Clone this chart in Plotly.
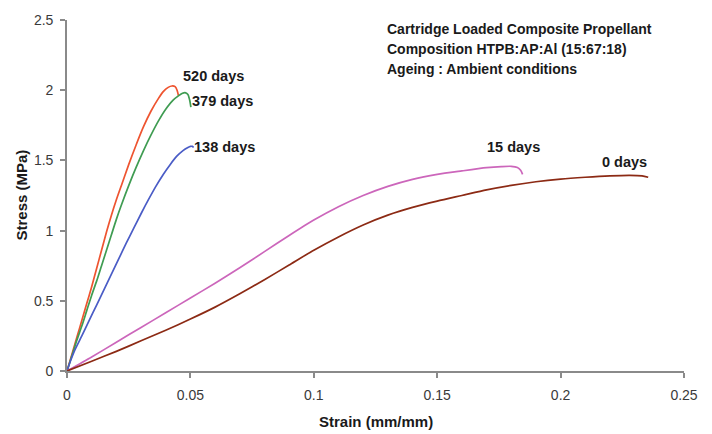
import plotly.graph_objects as go

# ---- data ----
strain_520 = [0, 0.002, 0.004, 0.006, 0.008, 0.010, 0.012, 0.014, 0.016, 0.018, 0.020, 0.022,
              0.025, 0.028, 0.031, 0.034, 0.037, 0.039, 0.041, 0.0425, 0.0438, 0.0446, 0.0452]
stress_520 = [0, 0.12, 0.24, 0.36, 0.48, 0.60, 0.73, 0.86, 0.99, 1.11, 1.22, 1.32,
              1.47, 1.61, 1.74, 1.85, 1.94, 1.99, 2.02, 2.03, 2.025, 2.00, 1.96]

strain_379 = [0, 0.002, 0.004, 0.006, 0.008, 0.010, 0.012, 0.014, 0.016, 0.018, 0.020, 0.022,
              0.025, 0.028, 0.031, 0.034, 0.037, 0.040, 0.043, 0.045, 0.0468, 0.0478, 0.0490,
              0.0497, 0.0502]
stress_379 = [0, 0.11, 0.22, 0.32, 0.43, 0.54, 0.64, 0.75, 0.86, 0.97, 1.08, 1.18,
              1.32, 1.45, 1.57, 1.68, 1.78, 1.865, 1.93, 1.958, 1.978, 1.983, 1.97,
              1.93, 1.88]

strain_138 = [0, 0.0016, 0.0032, 0.006, 0.009, 0.012, 0.015, 0.018, 0.021, 0.024, 0.027, 0.030,
              0.033, 0.036, 0.039, 0.042, 0.0445, 0.047, 0.049, 0.050, 0.0508, 0.0513]
stress_138 = [0, 0.08, 0.15, 0.25, 0.36, 0.47, 0.58, 0.69, 0.80, 0.91, 1.015, 1.12,
              1.22, 1.315, 1.40, 1.475, 1.53, 1.57, 1.592, 1.60, 1.60, 1.592]

strain_15 = [0, 0.01, 0.02, 0.03, 0.04, 0.05, 0.06, 0.07, 0.08, 0.09, 0.10, 0.11, 0.12, 0.13,
             0.14, 0.15, 0.16, 0.17, 0.176, 0.180, 0.1825, 0.1838, 0.1846]
stress_15 = [0, 0.10, 0.205, 0.31, 0.415, 0.52, 0.625, 0.735, 0.85, 0.965, 1.075, 1.17, 1.25,
             1.315, 1.365, 1.40, 1.425, 1.448, 1.456, 1.458, 1.45, 1.43, 1.40]

strain_0 = [0, 0.01, 0.02, 0.03, 0.04, 0.05, 0.06, 0.07, 0.08, 0.09, 0.10, 0.11, 0.12, 0.13,
            0.14, 0.15, 0.16, 0.17, 0.18, 0.19, 0.20, 0.21, 0.22, 0.228, 0.233, 0.2355]
stress_0 = [0, 0.07, 0.14, 0.215, 0.29, 0.37, 0.455, 0.55, 0.65, 0.755, 0.86, 0.955, 1.04, 1.11,
            1.165, 1.21, 1.25, 1.29, 1.322, 1.348, 1.367, 1.38, 1.39, 1.394, 1.39, 1.38]

series_names = ["520 days", "379 days", "138 days", "15 days", "0 days"]
x_ticks = [0, 0.05, 0.1, 0.15, 0.2, 0.25]
x_tick_labels = ["0", "0.05", "0.1", "0.15", "0.2", "0.25"]
y_ticks = [0, 0.5, 1, 1.5, 2, 2.5]
y_tick_labels = ["0", "0.5", "1", "1.5", "2", "2.5"]
info_lines = ["Cartridge Loaded Composite Propellant",
              "Composition HTPB:AP:Al (15:67:18)",
              "Ageing : Ambient conditions"]

colors = ["#EE5430", "#3F9C52", "#4A5CC6", "#CC66BB", "#8C2A14"]
xs = [strain_520, strain_379, strain_138, strain_15, strain_0]
ys = [stress_520, stress_379, stress_138, stress_15, stress_0]

# label anchor positions (data coords)
label_pos = [(0.0462, 2.10), (0.0500, 1.92), (0.0505, 1.594), (0.1692, 1.594), (0.2160, 1.489)]

FONT = "Arial, 'Liberation Sans', sans-serif"

fig = go.Figure()
for name, x, y, c in zip(series_names, xs, ys, colors):
    fig.add_trace(go.Scatter(x=x, y=y, mode="lines", name=name,
                             line=dict(color=c, width=1.7, shape="spline", smoothing=0.7),
                             showlegend=False))

annotations = []
for name, (lx, ly) in zip(series_names, label_pos):
    annotations.append(dict(x=lx, y=ly, xref="x", yref="y", text="<b>%s</b>" % name,
                            showarrow=False, xanchor="left", yanchor="middle",
                            font=dict(family=FONT, size=14.5, color="#1a1a1a")))
for i, line in enumerate(info_lines):
    annotations.append(dict(x=0.5155, y=0.974 - i * 0.0562, xref="paper", yref="paper",
                            text="<b>%s</b>" % line, showarrow=False,
                            xanchor="left", yanchor="middle",
                            font=dict(family=FONT, size=14, color="#1a1a1a")))
# axis titles
annotations.append(dict(x=0.5, y=-0.143, xref="paper", yref="paper",
                        text="<b>Strain (mm/mm)</b>", showarrow=False,
                        xanchor="center", yanchor="middle",
                        font=dict(family=FONT, size=15, color="#1a1a1a")))
annotations.append(dict(x=-0.0745, y=0.5, xref="paper", yref="paper",
                        text="<b>Stress (MPa)</b>", showarrow=False, textangle=-90,
                        xanchor="center", yanchor="middle",
                        font=dict(family=FONT, size=15, color="#1a1a1a")))

axis_common = dict(showline=True, linecolor="#8a8a8a", linewidth=1.6, ticks="outside",
                   ticklen=5, tickwidth=1.5, tickcolor="#8a8a8a", showgrid=False,
                   zeroline=False, tickfont=dict(family=FONT, size=14, color="#3a3a3a"))

fig.update_layout(
    width=712, height=434,
    margin=dict(l=67, r=28, t=15, b=63),
    paper_bgcolor="white", plot_bgcolor="white",
    xaxis=dict(range=[0, 0.25], tickvals=x_ticks, ticktext=x_tick_labels,
               ticklabelstandoff=5, **axis_common),
    yaxis=dict(range=[0, 2.5], tickvals=y_ticks, ticktext=y_tick_labels,
               ticklabelstandoff=4, **axis_common),
    annotations=annotations,
)

fig.write_html("out.html")
